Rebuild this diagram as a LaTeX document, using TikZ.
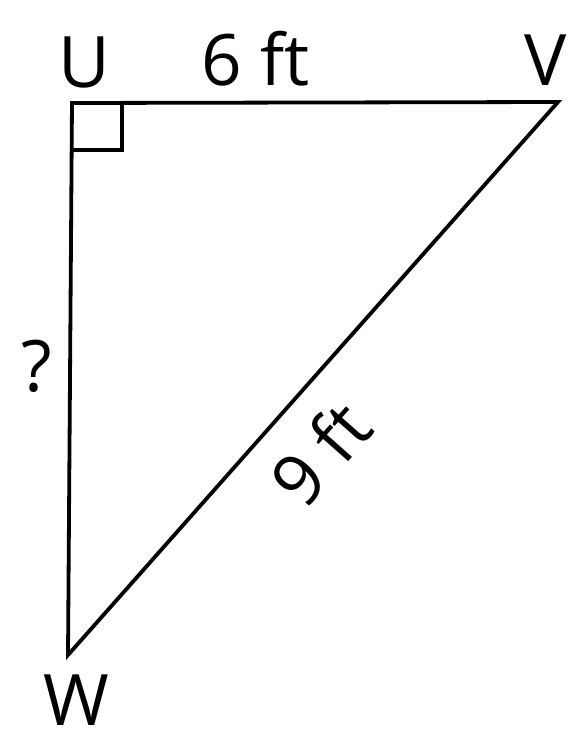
\documentclass[tikz,border=0pt]{standalone}
\usepackage{fontspec}
\setmainfont{Open Sans}
\usetikzlibrary{calc}

\begin{document}
\begin{tikzpicture}[x=1pt, y=-1pt, line cap=round, line join=miter,
    lado/.style={line width=3.8pt},
    rotulo/.style={font=\fontsize{71}{74}\selectfont, inner sep=0pt}]
    \useasboundingbox (0,0) rectangle (571,742);
    % --- vertices del triangulo
    \coordinate (U) at (72,103);
    \coordinate (V) at (558,102);
    \coordinate (W) at (68,655);
    % --- lados
    \draw[lado] (U) -- (V) -- (W) -- cycle;
    % --- marca del angulo recto en U
    \draw[line width=3.4pt] ($(U)+(0,47)$) -- ++(50,0) -- ++(0,-47);
    % --- rotulos de los vertices
    \node[rotulo] (lu) at (84,63)  {U};
    \node[rotulo] (lv) at (546,60) {V};
    \node[rotulo] (lw) at (76,700) {W};
    % --- medidas
    \node[rotulo] (a) at (256,59) {6 ft};
    \node[rotulo] (b) at (37,366) {?};
    \node[rotulo, rotate=48.5] (c) at (320,453) {9 ft};
\end{tikzpicture}
\end{document}
